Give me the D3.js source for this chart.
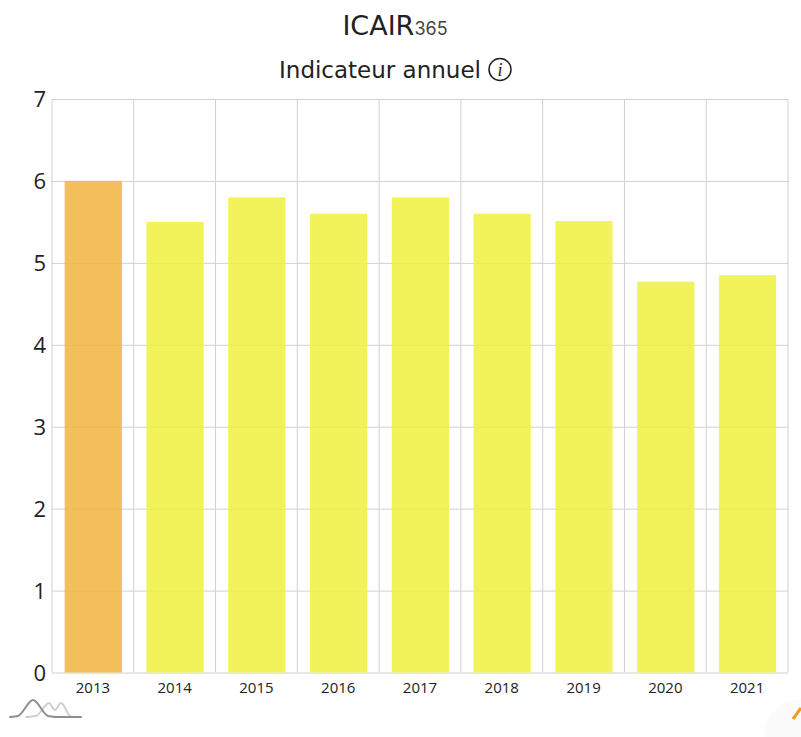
<!DOCTYPE html>
<html>
<head>
<meta charset="utf-8">
<script src="https://cdn.jsdelivr.net/npm/d3@7"></script>
<style>
  html, body { margin: 0; padding: 0; background: #fff; overflow: hidden; }
  svg { display: block; }
  text { font-family: "Noto Sans", "Open Sans", sans-serif; fill: #222; }
  .heading { font-family: "DejaVu Sans", sans-serif; }
  .grid line, .grid path { stroke: #d0d0d0; stroke-width: 1; }
</style>
</head>
<body>
<script>
var years = ["2013", "2014", "2015", "2016", "2017", "2018", "2019", "2020", "2021"];
var values = [6.0, 5.5, 5.8, 5.6, 5.8, 5.6, 5.51, 4.77, 4.85];
var barColors = ["#f1b43e", "#f0f13e", "#f0f13e", "#f0f13e", "#f0f13e", "#f0f13e", "#f0f13e", "#f0f13e", "#f0f13e"];
var yTicks = [0, 1, 2, 3, 4, 5, 6, 7];

var margin = {top: 99, right: 13, bottom: 64.5, left: 52},
    width = 801 - margin.left - margin.right,
    height = 737 - margin.top - margin.bottom;

var x = d3.scaleBand().domain(years).range([0, width]).padding(0);
var y = d3.scaleLinear().domain([0, 7]).range([height, 0]);

var svg = d3.select("body").append("svg")
    .attr("width", 801)
    .attr("height", 737);

// titles
var title = svg.append("text")
    .attr("class", "heading")
    .attr("x", 395)
    .attr("y", 35)
    .attr("text-anchor", "middle");
title.append("tspan").attr("font-size", 27).text("ICAIR");
title.append("tspan")
    .attr("font-size", 18)
    .attr("fill", "#444")
    .style("font-family", "Inter, sans-serif")
    .text("365");

svg.append("text")
    .attr("class", "heading")
    .attr("x", 380)
    .attr("y", 78)
    .attr("text-anchor", "middle")
    .attr("font-size", 23)
    .text("Indicateur annuel");

// info icon next to the subtitle
var info = svg.append("g").attr("transform", "translate(500,69.5)");
info.append("circle").attr("r", 11).attr("fill", "none").attr("stroke", "#222").attr("stroke-width", 1.5);
info.append("text")
    .attr("text-anchor", "middle")
    .attr("y", 6)
    .attr("font-size", 18)
    .attr("font-style", "italic")
    .style("font-family", "'Liberation Serif', serif")
    .text("i");

var g = svg.append("g")
    .attr("transform", "translate(" + margin.left + "," + margin.top + ")");

// grid lines
g.append("g")
    .attr("class", "grid")
    .call(d3.axisLeft(y).tickValues(yTicks).tickSize(-width).tickFormat(""))
    .call(function(s) { s.select(".domain").remove(); });

g.append("g")
    .attr("class", "grid")
    .selectAll("line")
    .data(years.concat("end"))
    .enter().append("line")
    .attr("x1", function(d, i) { return i * x.bandwidth(); })
    .attr("x2", function(d, i) { return i * x.bandwidth(); })
    .attr("y1", 0)
    .attr("y2", height);

// bars, slightly see-through so the grid shows behind them
g.selectAll(".bar")
    .data(values)
    .enter().append("rect")
    .attr("class", "bar")
    .attr("x", function(d, i) { return x(years[i]) + x.bandwidth() * 0.155; })
    .attr("width", x.bandwidth() * 0.7)
    .attr("y", function(d) { return y(d); })
    .attr("height", function(d) { return height - y(d); })
    .attr("fill", function(d, i) { return barColors[i]; })
    .attr("fill-opacity", 0.85);

// axes labels
var yAxis = g.append("g")
    .call(d3.axisLeft(y).tickValues(yTicks).tickFormat(d3.format("d")).tickSize(0).tickPadding(6));
yAxis.select(".domain").remove();
yAxis.selectAll("text")
    .attr("font-size", 22)
    .attr("dy", "0.35em")
    .style("font-family", "'Open Sans', sans-serif")
    .attr("fill", "#222");

var xAxis = g.append("g")
    .attr("transform", "translate(0," + height + ")")
    .call(d3.axisBottom(x).tickSize(0).tickPadding(10));
xAxis.select(".domain").remove();
xAxis.selectAll("text")
    .attr("font-size", 15)
    .style("font-family", "'Open Sans', sans-serif")
    .attr("fill", "#333");

// watermark logo, bottom left
var curve = d3.line().curve(d3.curveMonotoneX);
var logo = svg.append("g").attr("fill", "none").attr("stroke-linecap", "round");
logo.append("path")
    .attr("d", curve([[26, 717], [36, 716], [49, 703], [55, 710], [61, 703], [70, 716], [73, 717]]))
    .attr("stroke", "#cfcfcf").attr("stroke-width", 2);
logo.append("path")
    .attr("d", curve([[10, 717], [18, 716], [33, 700], [48, 716], [56, 717]]))
    .attr("stroke", "#8f8f8f").attr("stroke-width", 2);
logo.append("line")
    .attr("x1", 54).attr("y1", 717).attr("x2", 81).attr("y2", 717)
    .attr("stroke", "#8f8f8f").attr("stroke-width", 2);

// corner widget, bottom right
svg.append("circle").attr("cx", 801).attr("cy", 737).attr("r", 38).attr("fill", "#fbfbfb");
svg.append("line")
    .attr("x1", 793).attr("y1", 719).attr("x2", 801).attr("y2", 708)
    .attr("stroke", "#f29a26").attr("stroke-width", 3);
</script>
</body>
</html>
